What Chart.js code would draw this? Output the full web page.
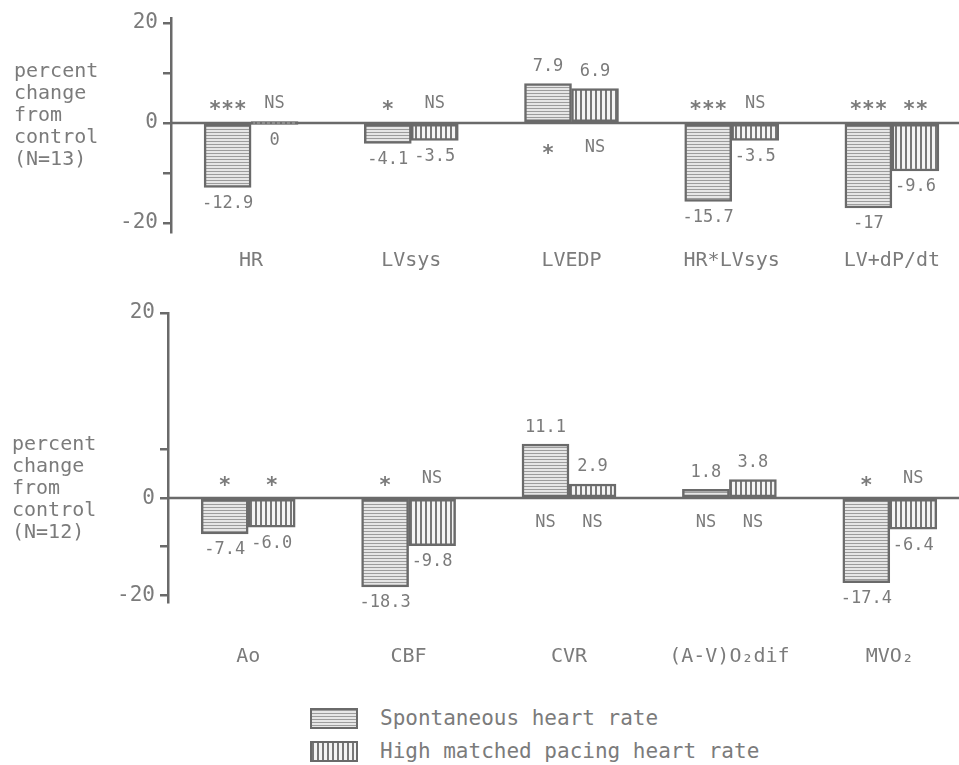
<!DOCTYPE html>
<html>
<head>
<meta charset="utf-8">
<script src="https://cdn.jsdelivr.net/npm/chart.js@4.4.1/dist/chart.umd.min.js"></script>
<style>
  body { margin: 0; background: #fff; overflow: hidden; width: 959px; height: 765px; position: relative; }
  canvas { position: absolute; left: 0; }
  #top_chart { top: 0; }
  #bottom_chart { top: 285px; }
  .ytitle, .legend { position: absolute; font-family: "DejaVu Sans Mono", monospace; color: #7b7b7b; }
  .ytitle { font-size: 20px; line-height: 22px; left: 14px; }
  .legend { left: 310px; top: 706px; font-size: 21px; }
  .legend div { height: 33px; line-height: 24px; position: relative; padding-left: 70px; }
  .legend span { position: absolute; left: 0; top: 2px; width: 44px; height: 17px; border: 2.5px solid #6a6a6a; }
  .sw1 { background: repeating-linear-gradient(to bottom, #9c9c9c 0 1px, #e6e6e6 1px 3px); }
  .sw2 { background: repeating-linear-gradient(to right, #777 0 2px, #f4f4f4 2px 5px); }
</style>
</head>
<body>
<canvas id="top_chart" width="972" height="285"></canvas>
<canvas id="bottom_chart" width="970" height="400"></canvas>
<div class="ytitle" style="top:59px">percent<br>change<br>from<br>control<br>(N=13)</div>
<div class="ytitle" style="top:432px;left:12px">percent<br>change<br>from<br>control<br>(N=12)</div>
<div class="legend">
  <div><span class="sw1"></span>Spontaneous heart rate</div>
  <div><span class="sw2"></span>High matched pacing heart rate</div>
</div>
<script>
// top panel (N=13)
const top_categories = ["HR", "LVsys", "LVEDP", "HR*LVsys", "LV+dP/dt"];
const top_spont = ["-12.9", "-4.1", "7.9", "-15.7", "-17"];
const top_paced = ["0", "-3.5", "6.9", "-3.5", "-9.6"];
const top_sig_spont = ["***", "*", "*", "***", "***"];
const top_sig_paced = ["NS", "NS", "NS", "NS", "**"];
const top_ticks = [-20, -10, 0, 10, 20];
const top_tick_labels = ["-20", "", "0", "", "20"];

// bottom panel (N=12), axis is broken above 10
const bottom_categories = ["Ao", "CBF", "CVR", "(A-V)O₂dif", "MVO₂"];
const bottom_spont = ["-7.4", "-18.3", "11.1", "1.8", "-17.4"];
const bottom_paced = ["-6.0", "-9.8", "2.9", "3.8", "-6.4"];
const bottom_sig_spont = ["*", "*", "NS", "NS", "*"];
const bottom_sig_paced = ["*", "NS", "NS", "NS", "NS"];
const bottom_ticks = [-20, -10, 0, 10];
const bottom_tick_labels = ["-20", "", "0", "", "20"];

const series_names = ["Spontaneous heart rate", "High matched pacing heart rate"];

const text_color = "#7b7b7b";
const line_color = "#6a6a6a";
const font_family = '"DejaVu Sans Mono", monospace';

const make_pattern = (w, h, draw) => {
  const c = document.createElement("canvas");
  c.width = w;
  c.height = h;
  draw(c.getContext("2d"));
  return c.getContext("2d").createPattern(c, "repeat");
};
const horiz = make_pattern(1, 3, (g) => {
  g.fillStyle = "#e6e6e6";
  g.fillRect(0, 0, 1, 3);
  g.fillStyle = "#9c9c9c";
  g.fillRect(0, 0, 1, 1);
});
const vert = make_pattern(5, 1, (g) => {
  g.fillStyle = "#f4f4f4";
  g.fillRect(0, 0, 5, 1);
  g.fillStyle = "#777";
  g.fillRect(0, 0, 2, 1);
});

const zero_line = {
  id: "zero_line",
  beforeDatasetsDraw(chart) {
    const ctx = chart.ctx;
    const y = chart.scales.y.getPixelForValue(0);
    ctx.save();
    ctx.strokeStyle = line_color;
    ctx.lineWidth = 2.5;
    ctx.beginPath();
    ctx.moveTo(chart.chartArea.left, y);
    ctx.lineTo(chart.width, y);
    ctx.stroke();
    ctx.restore();
  },
};

const bar_text = {
  id: "bar_text",
  afterDatasetsDraw(chart) {
    const ctx = chart.ctx;
    const zero = chart.scales.y.getPixelForValue(0);
    ctx.save();
    ctx.fillStyle = text_color;
    ctx.textAlign = "center";
    ctx.textBaseline = "middle";
    chart.data.datasets.forEach((ds, d) => {
      chart.getDatasetMeta(d).data.forEach((bar, i) => {
        const v = ds.data[i];
        const sig = ds.sig[i];
        // asterisks sit high in the font, so draw them bigger and lower
        const star = sig.startsWith("*") ? 7 : 0;
        const sig_font = (star ? "bold 21px " : "17px ") + font_family;
        ctx.font = "17px " + font_family;
        if (v > 0) {
          ctx.fillText(ds.value_text[i], bar.x, bar.y - 17);
          ctx.font = sig_font;
          ctx.fillText(sig, bar.x, zero + 25 + star);
        } else {
          ctx.fillText(ds.value_text[i], bar.x, Math.max(bar.y, zero) + 16);
          ctx.font = sig_font;
          ctx.fillText(sig, bar.x, zero - 19 + star);
        }
      });
    });
    ctx.restore();
  },
};

const draw_panel = (id, opt) => {
  const ctx = document.getElementById(id).getContext("2d");
  return new Chart(ctx, {
    type: "bar",
    data: {
      labels: opt.categories,
      datasets: [
        {
          label: series_names[0],
          data: opt.spont.map(Number),
          value_text: opt.spont,
          sig: opt.sig_spont,
          backgroundColor: horiz,
        },
        {
          label: series_names[1],
          data: opt.paced.map(Number),
          value_text: opt.paced,
          sig: opt.sig_paced,
          backgroundColor: vert,
        },
      ],
    },
    options: {
      responsive: false,
      animation: false,
      devicePixelRatio: 1,
      layout: { padding: { top: opt.pad_top, left: 0, right: 0, bottom: 0 } },
      datasets: {
        bar: {
          barThickness: 47,
          minBarLength: 3,
          borderColor: line_color,
          borderWidth: 2.5,
          borderSkipped: false,
        },
      },
      plugins: { legend: { display: false }, tooltip: { enabled: false } },
      scales: {
        x: {
          grid: { display: false, drawTicks: false },
          border: { display: false },
          ticks: {
            color: text_color,
            font: { family: font_family, size: 20 },
            padding: opt.label_pad,
            maxRotation: 0,
            autoSkip: false,
          },
          afterFit: (s) => { s.height = opt.x_height; },
        },
        y: {
          min: opt.y_min,
          max: opt.y_max,
          grid: { drawOnChartArea: false, drawTicks: true, tickLength: 8, color: line_color, lineWidth: 2.5 },
          border: { display: true, color: line_color, width: 2.5 },
          ticks: {
            color: text_color,
            font: { family: font_family, size: 21 },
            padding: 5,
            callback: (v, i) => opt.tick_labels[i],
          },
          afterBuildTicks: (s) => {
            const t = opt.ticks.map((v) => ({ value: v }));
            if (t.length < opt.tick_labels.length) t.push({ value: s.max });
            s.ticks = t;
          },
          afterFit: (s) => { s.width = opt.axis_left; },
        },
      },
    },
    plugins: [zero_line, bar_text],
  });
};

draw_panel("top_chart", {
  categories: top_categories,
  spont: top_spont,
  paced: top_paced,
  sig_spont: top_sig_spont,
  sig_paced: top_sig_paced,
  ticks: top_ticks,
  tick_labels: top_tick_labels,
  y_min: -21.8,
  y_max: 21,
  pad_top: 18,
  x_height: 53,
  label_pad: 17,
  axis_left: 171,
});

draw_panel("bottom_chart", {
  categories: bottom_categories,
  spont: bottom_spont,
  paced: bottom_paced,
  sig_spont: bottom_sig_spont,
  sig_paced: bottom_sig_paced,
  ticks: bottom_ticks,
  tick_labels: bottom_tick_labels,
  y_min: -21.4,
  y_max: 38.1,
  pad_top: 28,
  x_height: 83,
  label_pad: 43,
  axis_left: 168,
});
</script>
</body>
</html>
